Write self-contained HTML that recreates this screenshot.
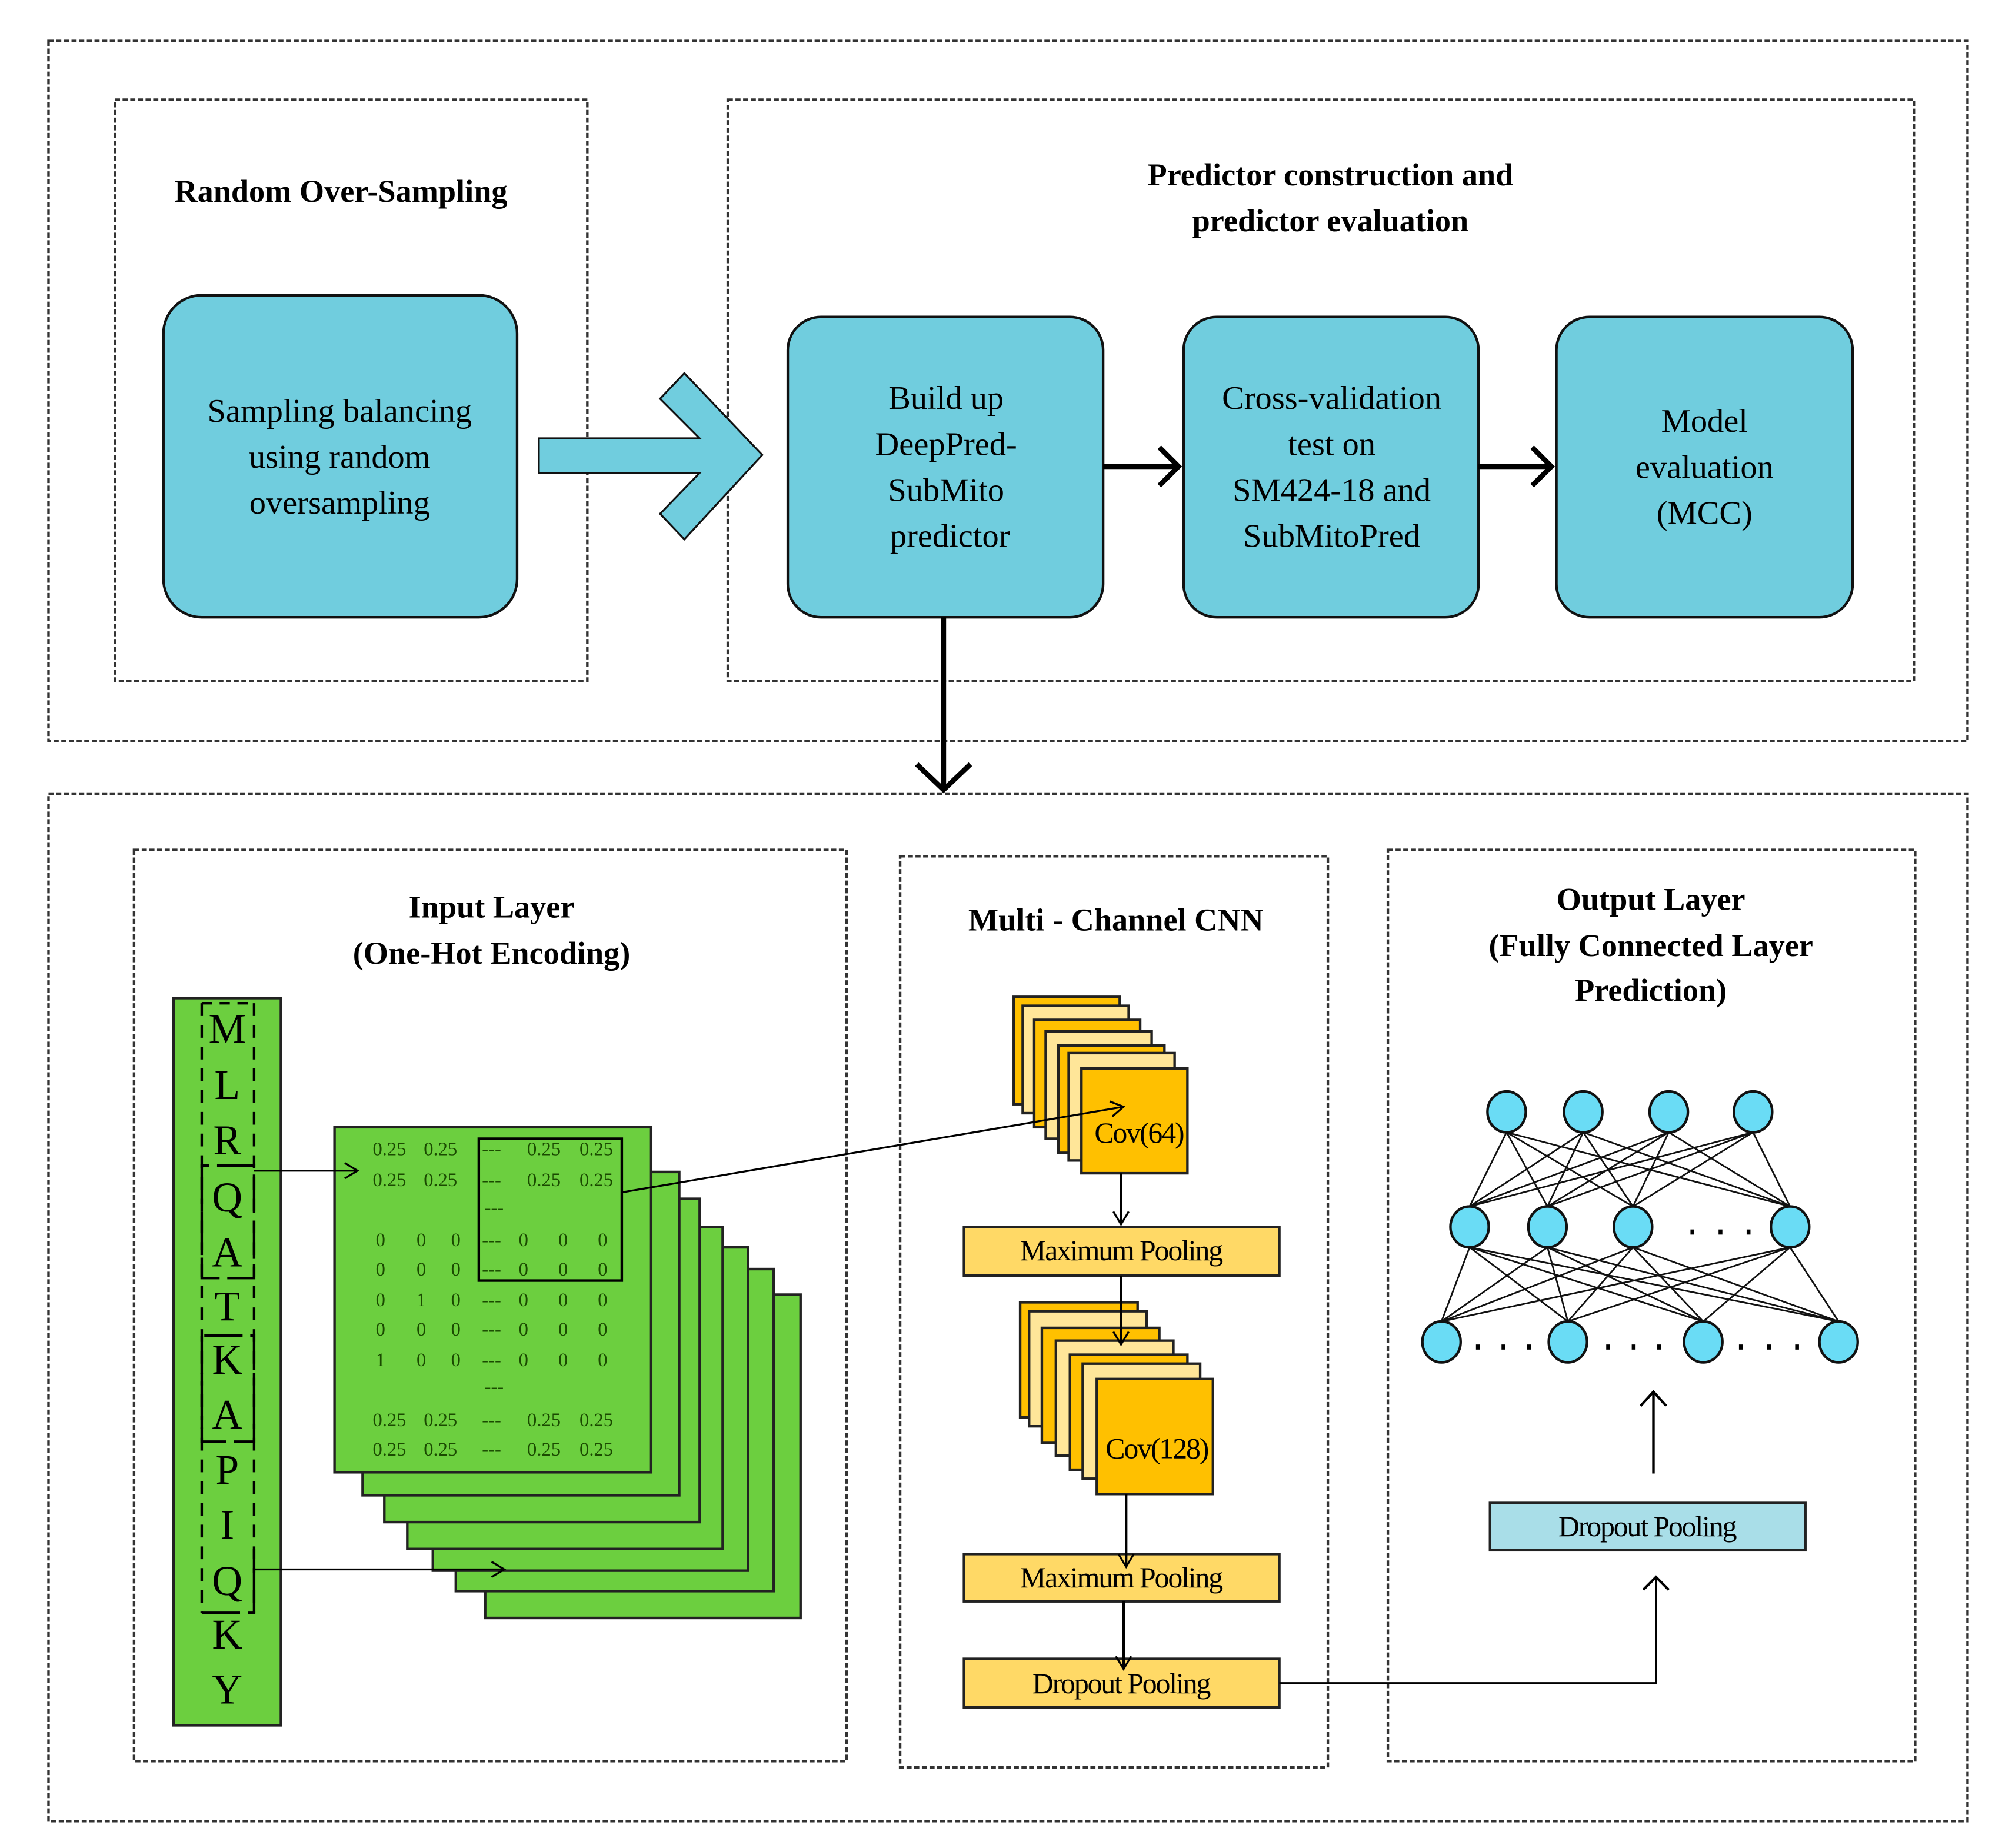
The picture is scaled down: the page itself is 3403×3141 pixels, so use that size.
<!DOCTYPE html>
<html><head><meta charset="utf-8"><style>
html,body{margin:0;padding:0;background:#fff}
svg{display:block}
text{font-family:"Liberation Serif",serif}
</style></head><body>
<svg width="3403" height="3141" viewBox="0 0 1568 1446" preserveAspectRatio="none" xmlns="http://www.w3.org/2000/svg">
<defs>
<marker id="oa" markerWidth="14" markerHeight="14" refX="12" refY="7" orient="auto" markerUnits="userSpaceOnUse">
<path d="M2,1 L12,7 L2,13" fill="none" stroke="#000" stroke-width="1.5"/></marker>
</defs>
<g fill="none" stroke="#333" stroke-width="2" stroke-dasharray="4,2">
<rect x="38" y="32" width="1503" height="548"/>
<rect x="90" y="78" width="370" height="455"/>
<rect x="570" y="78" width="929" height="455"/>
<rect x="38" y="621" width="1503" height="804"/>
<rect x="105" y="665" width="558" height="713"/>
<rect x="705" y="670" width="335" height="713"/>
<rect x="1087" y="665" width="413" height="713"/>
</g>
<g font-weight="bold" font-size="25" text-anchor="middle" fill="#000">
<text x="267" y="158">Random Over-Sampling</text>
<text x="1042" y="145">Predictor construction and</text>
<text x="1042" y="181">predictor evaluation</text>
<text x="385" y="718">Input Layer</text>
<text x="385" y="754">(One-Hot Encoding)</text>
<text x="874" y="728">Multi - Channel  CNN</text>
<text x="1293" y="712">Output Layer</text>
<text x="1293" y="748">(Fully Connected Layer</text>
<text x="1293" y="783">Prediction)</text>
</g>
<g fill="#70CDDE" stroke="#111" stroke-width="2">
<rect x="128" y="231" width="277" height="252" rx="30"/>
<rect x="617" y="248" width="247" height="235" rx="26"/>
<rect x="927" y="248" width="231" height="235" rx="26"/>
<rect x="1219" y="248" width="232" height="235" rx="26"/>
<polygon points="422,343 548,343 517,312 536,292 597,356 536,422 517,402 548,370 422,370" stroke-width="1.5"/>
</g>
<g font-size="26" text-anchor="middle" fill="#000">
<text x="266" y="330">Sampling balancing</text>
<text x="266" y="366">using random</text>
<text x="266" y="402">oversampling</text>
<text x="741" y="320">Build up</text>
<text x="741" y="356">DeepPred-</text>
<text x="741" y="392">SubMito</text>
<text x="744" y="428">predictor</text>
<text x="1043" y="320">Cross-validation</text>
<text x="1043" y="356">test on</text>
<text x="1043" y="392">SM424-18 and</text>
<text x="1043" y="428">SubMitoPred</text>
<text x="1335" y="338">Model</text>
<text x="1335" y="374">evaluation</text>
<text x="1335" y="410">(MCC)</text>
</g>
<g stroke="#000" stroke-width="4" fill="none">
<line x1="864" y1="365" x2="922" y2="365"/><path d="M908,350 L923,365 L908,380"/>
<line x1="1158" y1="365" x2="1214" y2="365"/><path d="M1200,350 L1215,365 L1200,380"/>
<line x1="739" y1="483" x2="739" y2="617"/><path d="M718,598 L739,618 L760,598"/>
</g>
<rect x="136" y="781" width="84" height="569" fill="#6CCF3F" stroke="#222" stroke-width="2"/>
<g fill="none" stroke="#000" stroke-width="2">
<line x1="158" y1="785" x2="158" y2="1262" stroke-dasharray="10,7"/>
<line x1="199" y1="785" x2="199" y2="1262" stroke-dasharray="10,7"/>
<line x1="158" y1="785" x2="199" y2="785" stroke-dasharray="8,6"/>
<path d="M158,912 L158,1000 L199,1000 L199,912 Z" stroke-dasharray="30,6"/>
<path d="M158,1045 L158,1128 L199,1128 L199,1045 Z" stroke-dasharray="30,6"/>
<path d="M158,1262 L199,1262 L199,1212" stroke-dasharray="30,6"/>
</g>
<g font-size="33" text-anchor="middle" fill="#000">
<text x="178" y="816">M</text><text x="178" y="860">L</text><text x="178" y="903">R</text>
<text x="178" y="948">Q</text><text x="178" y="991">A</text><text x="178" y="1033">T</text>
<text x="178" y="1075">K</text><text x="178" y="1118">A</text><text x="178" y="1161">P</text>
<text x="178" y="1204">I</text><text x="178" y="1248">Q</text><text x="178" y="1290">K</text>
<text x="178" y="1333">Y</text>
</g>
<g fill="#6CCF3F" stroke="#222" stroke-width="2">
<rect x="380" y="1013" width="247" height="253"/>
<rect x="357" y="993" width="249" height="252"/>
<rect x="339" y="976" width="247" height="253"/>
<rect x="319" y="960" width="247" height="252"/>
<rect x="301" y="938" width="247" height="253"/>
<rect x="284" y="917" width="248" height="253"/>
<rect x="262" y="882" width="248" height="270"/>
<rect x="375" y="891" width="112" height="111" fill="none" stroke="#000"/>
</g>
<g font-size="15" text-anchor="middle" fill="#1a4a00">
<text x="305" y="904">0.25</text><text x="345" y="904">0.25</text><text x="385" y="904">---</text><text x="426" y="904">0.25</text><text x="467" y="904">0.25</text>
<text x="305" y="928">0.25</text><text x="345" y="928">0.25</text><text x="385" y="928">---</text><text x="426" y="928">0.25</text><text x="467" y="928">0.25</text>
<text x="387" y="950">---</text>
<text x="298" y="975">0</text><text x="330" y="975">0</text><text x="357" y="975">0</text><text x="385" y="975">---</text><text x="410" y="975">0</text><text x="441" y="975">0</text><text x="472" y="975">0</text>
<text x="298" y="998">0</text><text x="330" y="998">0</text><text x="357" y="998">0</text><text x="385" y="998">---</text><text x="410" y="998">0</text><text x="441" y="998">0</text><text x="472" y="998">0</text>
<text x="298" y="1022">0</text><text x="330" y="1022">1</text><text x="357" y="1022">0</text><text x="385" y="1022">---</text><text x="410" y="1022">0</text><text x="441" y="1022">0</text><text x="472" y="1022">0</text>
<text x="298" y="1045">0</text><text x="330" y="1045">0</text><text x="357" y="1045">0</text><text x="385" y="1045">---</text><text x="410" y="1045">0</text><text x="441" y="1045">0</text><text x="472" y="1045">0</text>
<text x="298" y="1069">1</text><text x="330" y="1069">0</text><text x="357" y="1069">0</text><text x="385" y="1069">---</text><text x="410" y="1069">0</text><text x="441" y="1069">0</text><text x="472" y="1069">0</text>
<text x="387" y="1090">---</text>
<text x="305" y="1116">0.25</text><text x="345" y="1116">0.25</text><text x="385" y="1116">---</text><text x="426" y="1116">0.25</text><text x="467" y="1116">0.25</text>
<text x="305" y="1139">0.25</text><text x="345" y="1139">0.25</text><text x="385" y="1139">---</text><text x="426" y="1139">0.25</text><text x="467" y="1139">0.25</text>
</g>
<g stroke="#000" stroke-width="1.5" fill="none">
<line x1="199" y1="916" x2="280" y2="916" marker-end="url(#oa)"/>
<line x1="199" y1="1228" x2="395" y2="1228" marker-end="url(#oa)"/>
</g>
<g stroke="#222" stroke-width="2">
<rect x="794" y="780" width="83" height="84" fill="#FFC000"/>
<rect x="801" y="787" width="83" height="84" fill="#FFE699"/>
<rect x="810" y="798" width="83" height="84" fill="#FFC000"/>
<rect x="819" y="807" width="83" height="84" fill="#FFE699"/>
<rect x="829" y="818" width="83" height="84" fill="#FFC000"/>
<rect x="837" y="824" width="83" height="84" fill="#FFE699"/>
<rect x="847" y="836" width="83" height="82" fill="#FFC000"/>
<rect x="799" y="1019" width="92" height="90" fill="#FFC000"/>
<rect x="806" y="1026" width="92" height="90" fill="#FFE699"/>
<rect x="816" y="1039" width="92" height="90" fill="#FFC000"/>
<rect x="827" y="1049" width="92" height="90" fill="#FFE699"/>
<rect x="838" y="1060" width="92" height="90" fill="#FFC000"/>
<rect x="848" y="1067" width="92" height="90" fill="#FFE699"/>
<rect x="859" y="1079" width="91" height="90" fill="#FFC000"/>
<rect x="755" y="960" width="247" height="38" fill="#FFD966"/>
<rect x="755" y="1216" width="247" height="37" fill="#FFD966"/>
<rect x="755" y="1298" width="247" height="38" fill="#FFD966"/>
<rect x="1167" y="1176" width="247" height="37" fill="#A9DEE8"/>
</g>
<line x1="487" y1="933" x2="880" y2="866" stroke="#000" stroke-width="1.5" marker-end="url(#oa)"/>
<g font-size="23" text-anchor="middle" fill="#000" letter-spacing="-1">
<text x="892" y="894">Cov(64)</text>
<text x="906" y="1141">Cov(128)</text>
<text x="878" y="986">Maximum Pooling</text>
<text x="878" y="1242">Maximum Pooling</text>
<text x="878" y="1325">Dropout Pooling</text>
<text x="1290" y="1202">Dropout Pooling</text>
</g>
<g stroke="#000" stroke-width="2" fill="none">
<line x1="878" y1="918" x2="878" y2="958" marker-end="url(#oa)"/>
<line x1="878" y1="998" x2="878" y2="1052" marker-end="url(#oa)"/>
<line x1="882" y1="1169" x2="882" y2="1226" marker-end="url(#oa)"/>
<line x1="880" y1="1253" x2="880" y2="1306" marker-end="url(#oa)"/>
<path d="M1002,1317 L1297,1317 L1297,1235" stroke-width="1.5"/>
<path d="M1287,1244 L1297,1234 L1307,1244"/>
<line x1="1295" y1="1153" x2="1295" y2="1090"/>
<path d="M1285,1100 L1295,1089 L1305,1100"/>
</g>
<g stroke="#111" stroke-width="1.3">
<line x1="1180" y1="886" x2="1151" y2="944"/><line x1="1180" y1="886" x2="1212" y2="944"/><line x1="1180" y1="886" x2="1279" y2="944"/><line x1="1180" y1="886" x2="1402" y2="944"/>
<line x1="1240" y1="886" x2="1151" y2="944"/><line x1="1240" y1="886" x2="1212" y2="944"/><line x1="1240" y1="886" x2="1279" y2="944"/><line x1="1240" y1="886" x2="1402" y2="944"/>
<line x1="1307" y1="886" x2="1151" y2="944"/><line x1="1307" y1="886" x2="1212" y2="944"/><line x1="1307" y1="886" x2="1279" y2="944"/><line x1="1307" y1="886" x2="1402" y2="944"/>
<line x1="1373" y1="886" x2="1151" y2="944"/><line x1="1373" y1="886" x2="1212" y2="944"/><line x1="1373" y1="886" x2="1279" y2="944"/><line x1="1373" y1="886" x2="1402" y2="944"/>
<line x1="1151" y1="976" x2="1129" y2="1034"/><line x1="1151" y1="976" x2="1228" y2="1034"/><line x1="1151" y1="976" x2="1334" y2="1034"/><line x1="1151" y1="976" x2="1440" y2="1034"/>
<line x1="1212" y1="976" x2="1129" y2="1034"/><line x1="1212" y1="976" x2="1228" y2="1034"/><line x1="1212" y1="976" x2="1334" y2="1034"/><line x1="1212" y1="976" x2="1440" y2="1034"/>
<line x1="1279" y1="976" x2="1129" y2="1034"/><line x1="1279" y1="976" x2="1228" y2="1034"/><line x1="1279" y1="976" x2="1334" y2="1034"/><line x1="1279" y1="976" x2="1440" y2="1034"/>
<line x1="1402" y1="976" x2="1129" y2="1034"/><line x1="1402" y1="976" x2="1228" y2="1034"/><line x1="1402" y1="976" x2="1334" y2="1034"/><line x1="1402" y1="976" x2="1440" y2="1034"/>
</g>
<g fill="#6ADCF5" stroke="#111" stroke-width="2">
<ellipse cx="1180" cy="870" rx="15" ry="16"/><ellipse cx="1240" cy="870" rx="15" ry="16"/><ellipse cx="1307" cy="870" rx="15" ry="16"/><ellipse cx="1373" cy="870" rx="15" ry="16"/>
<ellipse cx="1151" cy="960" rx="15" ry="16"/><ellipse cx="1212" cy="960" rx="15" ry="16"/><ellipse cx="1279" cy="960" rx="15" ry="16"/><ellipse cx="1402" cy="960" rx="15" ry="16"/>
<ellipse cx="1129" cy="1050" rx="15" ry="16"/><ellipse cx="1228" cy="1050" rx="15" ry="16"/><ellipse cx="1334" cy="1050" rx="15" ry="16"/><ellipse cx="1440" cy="1050" rx="15" ry="16"/>
</g>
<g fill="#000">
<rect x="1324" y="962" width="3" height="4"/><rect x="1346" y="962" width="3" height="4"/><rect x="1368" y="962" width="3" height="4"/>
<rect x="1156" y="1052" width="3" height="4"/><rect x="1176" y="1052" width="3" height="4"/><rect x="1196" y="1052" width="3" height="4"/>
<rect x="1258" y="1052" width="3" height="4"/><rect x="1278" y="1052" width="3" height="4"/><rect x="1298" y="1052" width="3" height="4"/>
<rect x="1362" y="1052" width="3" height="4"/><rect x="1384" y="1052" width="3" height="4"/><rect x="1406" y="1052" width="3" height="4"/>
</g>
</svg>
</body></html>
